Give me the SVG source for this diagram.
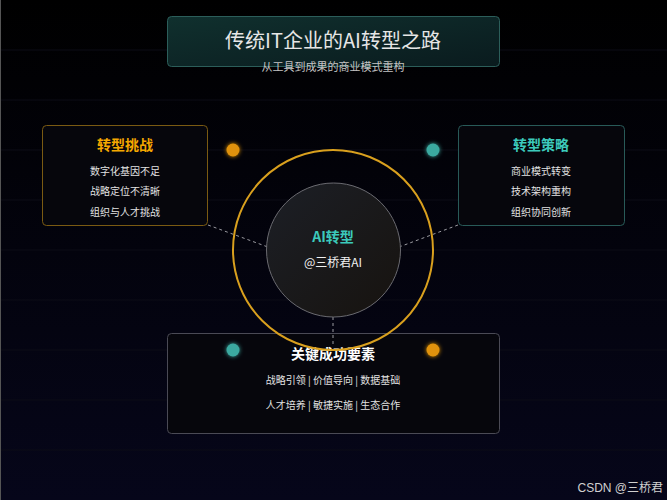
<svg xmlns="http://www.w3.org/2000/svg" width="667" height="500" viewBox="0 0 667 500">
<defs>
<linearGradient id="bg" x1="0" y1="0" x2="0" y2="1">
<stop offset="0" stop-color="#000000"/>
<stop offset="1" stop-color="#06061a"/>
</linearGradient>
<linearGradient id="titlebg" x1="0" y1="0" x2="1" y2="1">
<stop offset="0" stop-color="#10302e"/>
<stop offset="1" stop-color="#0a1b1e"/>
</linearGradient>
<linearGradient id="core" x1="0" y1="0" x2="1" y2="1">
<stop offset="0" stop-color="#1c1f26"/>
<stop offset="1" stop-color="#17130f"/>
</linearGradient>
<filter id="glow" x="-100%" y="-100%" width="300%" height="300%">
<feGaussianBlur stdDeviation="2"/>
<feMerge><feMergeNode/><feMergeNode in="SourceGraphic"/></feMerge>
</filter>
<style>
.t{font-family:"Noto Sans CJK SC","Liberation Sans",sans-serif;text-anchor:middle}
.head{font-size:14px;font-weight:bold}
.item{font-size:10px;fill:#e2e2e2}
.grid{stroke:#0d0d16;stroke-width:1}
.dash{stroke:#9a9aa0;stroke-width:1;stroke-dasharray:3,3;fill:none}
.box{fill:#06060c;stroke-width:1}
</style>
</defs>
<rect width="667" height="500" fill="url(#bg)"/>
<g id="grid">
<line class="grid" x1="0" y1="50" x2="667" y2="50"/>
<line class="grid" x1="0" y1="100" x2="667" y2="100"/>
<line class="grid" x1="0" y1="150" x2="667" y2="150"/>
<line class="grid" x1="0" y1="200" x2="667" y2="200"/>
<line class="grid" x1="0" y1="250" x2="667" y2="250"/>
<line class="grid" x1="0" y1="300" x2="667" y2="300"/>
<line class="grid" x1="0" y1="350" x2="667" y2="350"/>
<line class="grid" x1="0" y1="400" x2="667" y2="400"/>
<line class="grid" x1="0" y1="450" x2="667" y2="450"/>
</g>
<line x1="0.5" y1="0" x2="0.5" y2="500" stroke="#555" stroke-width="1"/>

<g id="title">
<rect x="167.5" y="16.5" width="332" height="50" rx="4" fill="url(#titlebg)" stroke="#2c5e5a"/>
<text class="t" x="333" y="48" font-size="20" fill="#e6e6e6">传统IT企业的AI转型之路</text>
<text class="t" x="333" y="71" font-size="11" fill="#c4c4c4">从工具到成果的商业模式重构</text>
</g>

<g id="bottom-box">
<rect class="box" x="167.5" y="333.5" width="332" height="100" rx="4" stroke="#4a4a55"/>
<text class="t head" x="333" y="359" fill="#ffffff">关键成功要素</text>
<text class="t item" x="333" y="384">战略引领 | 价值导向 | 数据基础</text>
<text class="t item" x="333" y="409">人才培养 | 敏捷实施 | 生态合作</text>
</g>

<g id="connectors">
<line class="dash" x1="208" y1="225" x2="276" y2="250"/>
<line class="dash" x1="458" y1="225" x2="391" y2="250"/>
<line class="dash" x1="333" y1="317" x2="333" y2="345"/>
</g>

<g id="ring">
<circle cx="333" cy="250" r="100" fill="none" stroke="#d9a01e" stroke-width="2"/>
</g>

<g id="core-node">
<circle cx="333.5" cy="250" r="67" fill="url(#core)" stroke="#6a6a70" stroke-width="1"/>
<text class="t head" x="333" y="242" fill="#3ccabb">AI转型</text>
<text class="t" x="333" y="267" font-size="12" fill="#f0f0f0">@三桥君AI</text>
</g>

<g id="left-box">
<rect class="box" x="42.5" y="125.5" width="165" height="100" rx="4" stroke="#7a5a12"/>
<text class="t head" x="125" y="150" fill="#f5a800">转型挑战</text>
<text class="t item" x="125" y="175">数字化基因不足</text>
<text class="t item" x="125" y="195">战略定位不清晰</text>
<text class="t item" x="125" y="216">组织与人才挑战</text>
</g>

<g id="right-box">
<rect class="box" x="458.5" y="125.5" width="166" height="100" rx="4" stroke="#285a58"/>
<text class="t head" x="541" y="150" fill="#3ccabb">转型策略</text>
<text class="t item" x="541" y="175">商业模式转变</text>
<text class="t item" x="541" y="195">技术架构重构</text>
<text class="t item" x="541" y="216">组织协同创新</text>
</g>

<g id="dots" filter="url(#glow)">
<circle cx="233" cy="150" r="6.5" fill="#e0920a"/>
<circle cx="433" cy="150" r="6.5" fill="#3aa9a0"/>
<circle cx="233" cy="350" r="6.5" fill="#3aa9a0"/>
<circle cx="433" cy="350" r="6.5" fill="#e0920a"/>
</g>

<text x="663" y="492" font-family="Liberation Sans, Noto Sans CJK SC, sans-serif" font-size="12" fill="#d0d0d0" text-anchor="end">CSDN @三桥君</text>
</svg>
